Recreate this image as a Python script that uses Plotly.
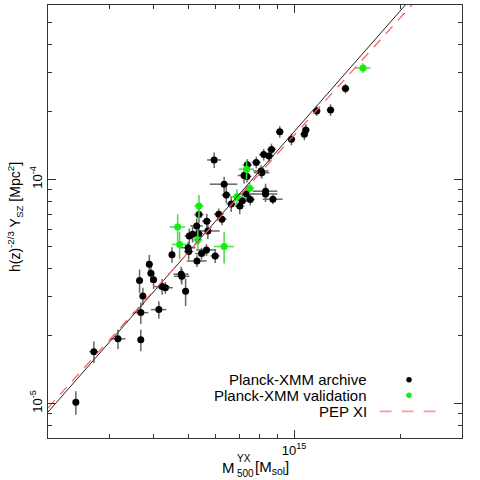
import plotly.graph_objects as go

# Planck-XMM archive sample: M500 in 1e14 Msol, Y in 1e-5 Mpc^2, errors in percent
arch_mass = [2.40, 2.70, 3.16, 3.67, 3.67, 3.72, 3.64, 3.88, 3.92, 3.99,
             4.13, 4.22, 4.31, 4.50, 4.78, 4.80, 4.92, 5.00, 5.02, 5.04,
             5.15, 5.29, 5.30, 5.36, 5.37, 5.46, 5.64, 5.65, 5.69, 5.97,
             5.93, 6.11, 6.24, 6.33, 6.42, 6.63, 7.01, 7.13, 7.21, 7.33,
             7.37, 7.35, 7.51, 7.81, 8.06, 8.10, 8.20, 8.30, 8.30, 8.49,
             8.63, 8.71, 9.11, 9.83, 10.7, 10.8, 11.6, 12.7, 14.0]
arch_ysz = [1.01, 1.70, 1.94, 1.92, 2.54, 3.01, 3.53, 4.18, 3.81, 3.56,
            2.62, 3.32, 3.28, 4.61, 3.77, 3.69, 3.16, 4.95, 4.76, 5.58,
            5.68, 6.19, 4.32, 5.72, 6.96, 4.66, 4.84, 6.50, 5.88, 4.55,
            12.2, 6.99, 6.64, 9.51, 8.51, 7.76, 7.60, 8.02, 10.4, 8.60,
            11.6, 10.3, 8.12, 11.9, 10.9, 10.7, 12.9, 8.85, 8.60, 12.7,
            13.6, 8.15, 16.3, 15.1, 15.9, 16.6, 20.2, 20.4, 25.4]
arch_mass_err = [2, 3, 5, 2, 5, 2, 2, 2, 2, 2,
                 5, 5, 5, 2, 5, 5, 2, 5, 3, 3,
                 3, 4, 6.5, 3, 3, 4, 6.5, 3, 8, 3,
                 4.5, 3, 3, 9, 3, 3, 3, 3, 4, 5,
                 3, 3, 3, 3, 5, 5, 3, 8, 8, 3,
                 3, 6.5, 2.5, 2.5, 2.5, 2.5, 2.5, 2.5, 2.5]
arch_ysz_err = [12, 11, 10, 11, 11, 9, 12, 10, 9, 9,
                9, 8, 6, 8, 8, 8, 14, 6, 8, 8,
                8, 8, 6, 10, 8, 6, 6, 8, 8, 7,
                8, 6, 6, 8, 8, 8, 8, 8, 8, 8,
                6, 6, 6, 6, 6, 6, 6, 8, 8, 6,
                6, 5, 6, 6, 6, 6, 5, 6, 5]

# Planck-XMM validation sample
val_mass = [4.67, 4.73, 5.37, 5.33, 6.33, 6.88, 7.33, 7.48, 15.7]
val_ysz = [6.12, 5.12, 7.60, 5.37, 5.01, 8.36, 11.1, 9.12, 31.4]
val_mass_err = [5, 5, 3, 3, 6.5, 4, 5, 3, 5]
val_ysz_err = [14, 14, 12, 10, 16, 8, 10, 6, 5]

# scaling relations: log10 normalisation at pivot mass, slope
pivot_mass = 6.0
fit_norm, fit_slope = -4.185, 1.79
pep_norm, pep_slope = -4.19, 1.74
line_mass = [2.0, 30.0]

legend_labels = ["Planck-XMM archive", "Planck-XMM validation", "PEP XI"]

FONT = "Liberation Sans, Arial, Helvetica, sans-serif"


def to_units(values, scale):
    return [v * scale for v in values]


def pct_err(values, pct):
    return [v * p / 100 for v, p in zip(values, pct)]


# Adds one sample with error bars in both directions
def add_sample(fig, mass, ysz, mass_err, ysz_err, color, bar_color):
    m = to_units(mass, 1e14)
    y = to_units(ysz, 1e-5)
    fig.add_trace(
        go.Scatter(
            x=m,
            y=y,
            mode="markers",
            marker=dict(color=color, size=7),
            error_x=dict(type="data", array=pct_err(m, mass_err),
                         color=bar_color, thickness=1.5, width=0),
            error_y=dict(type="data", array=pct_err(y, ysz_err),
                         color=bar_color, thickness=1.5, width=0),
            showlegend=False,
        )
    )


def relation(norm, slope):
    return [10 ** norm * (m / pivot_mass) ** slope for m in line_mass]


fig = go.Figure()

add_sample(fig, arch_mass, arch_ysz, arch_mass_err, arch_ysz_err, "black", "#666666")
add_sample(fig, val_mass, val_ysz, val_mass_err, val_ysz_err, "#11ee11", "#44dd44")

fig.add_trace(
    go.Scatter(
        x=to_units(line_mass, 1e14),
        y=relation(fit_norm, fit_slope),
        mode="lines",
        line=dict(color="#222222", width=1),
        showlegend=False,
    )
)
fig.add_trace(
    go.Scatter(
        x=to_units(line_mass, 1e14),
        y=relation(pep_norm, pep_slope),
        mode="lines",
        line=dict(color="#ff5a5a", width=1.2, dash="10px,8px"),
        showlegend=False,
    )
)

axis_style = dict(
    type="log",
    showline=True,
    linecolor="#333333",
    linewidth=1,
    mirror="allticks",
    ticks="inside",
    ticklen=8,
    tickcolor="#333333",
    showgrid=False,
    zeroline=False,
    tickfont=dict(size=13, color="black"),
)

fig.update_xaxes(
    **axis_style,
    range=[14.30103, 15.47712],
    tickvals=[1e15],
    ticktext=["10<sup>15</sup>"],
    minor=dict(tickvals=[3e14, 4e14, 5e14, 6e14, 7e14, 8e14, 9e14, 2e15],
               ticks="inside", ticklen=4, tickcolor="#333333"),
)
fig.update_yaxes(
    **axis_style,
    range=[-5.15490, -3.22185],
    tickvals=[1e-5, 1e-4],
    ticktext=["10<sup>-5</sup>", "10<sup>-4</sup>"],
    tickangle=-90,
    minor=dict(tickvals=[8e-6, 9e-6, 2e-5, 3e-5, 4e-5, 5e-5, 6e-5, 7e-5, 8e-5,
                         9e-5, 2e-4, 3e-4, 4e-4, 5e-4],
               ticks="inside", ticklen=4, tickcolor="#333333"),
)

# axis titles with stacked super/subscripts
notes = [
    dict(text="M", x=0.4556, y=-0.0685, xanchor="right", size=15),
    dict(text="YX", x=0.4520, y=-0.048, xanchor="left", size=10),
    dict(text="500", x=0.4520, y=-0.082, xanchor="left", size=10),
    dict(text="[M<sub>sol</sub>]", x=0.496, y=-0.0685, xanchor="left", size=15),
]
for n in notes:
    fig.add_annotation(
        text=n["text"], x=n["x"], y=n["y"], xref="paper", yref="paper",
        xanchor=n["xanchor"], yanchor="middle", showarrow=False,
        font=dict(size=n["size"], color="black"),
    )
fig.add_annotation(
    text="h(z)<sup>-2/3</sup> Y<sub>SZ</sub> [Mpc<sup>2</sup>]",
    x=-0.080, y=0.51, xref="paper", yref="paper", textangle=-90,
    xanchor="center", yanchor="middle", showarrow=False,
    font=dict(size=14, color="black"),
)

# hand-made legend: text right aligned, symbol on the right
legend_y = [0.1345, 0.0988, 0.0614]
for label, ly in zip(legend_labels, legend_y):
    fig.add_annotation(
        text=label, x=0.7746, y=ly, xref="paper", yref="paper",
        xanchor="right", yanchor="middle", showarrow=False,
        font=dict(size=15, color="black"),
    )
for ly, col in zip(legend_y[:2], ["black", "#11ee11"]):
    fig.add_shape(
        type="circle", xref="paper", yref="paper",
        xsizemode="pixel", ysizemode="pixel",
        xanchor=0.872, yanchor=ly, x0=-2.7, x1=2.7, y0=-2.7, y1=2.7,
        fillcolor=col, line=dict(width=0),
    )
fig.add_shape(
    type="line", xref="paper", yref="paper",
    x0=0.801, x1=0.9365, y0=legend_y[2], y1=legend_y[2],
    line=dict(color="#ff9a9a", width=1.6, dash="12px,10px"),
)

fig.update_layout(
    width=480,
    height=480,
    margin=dict(l=48, r=18, t=5, b=42),
    plot_bgcolor="white",
    paper_bgcolor="white",
    font=dict(family=FONT, color="black"),
    showlegend=False,
)

# page body has a default 8px margin; drop it so the figure sits at the corner
fig.write_html(
    "out.html",
    config={"displayModeBar": False},
    post_script="document.body.style.margin='0';",
)
